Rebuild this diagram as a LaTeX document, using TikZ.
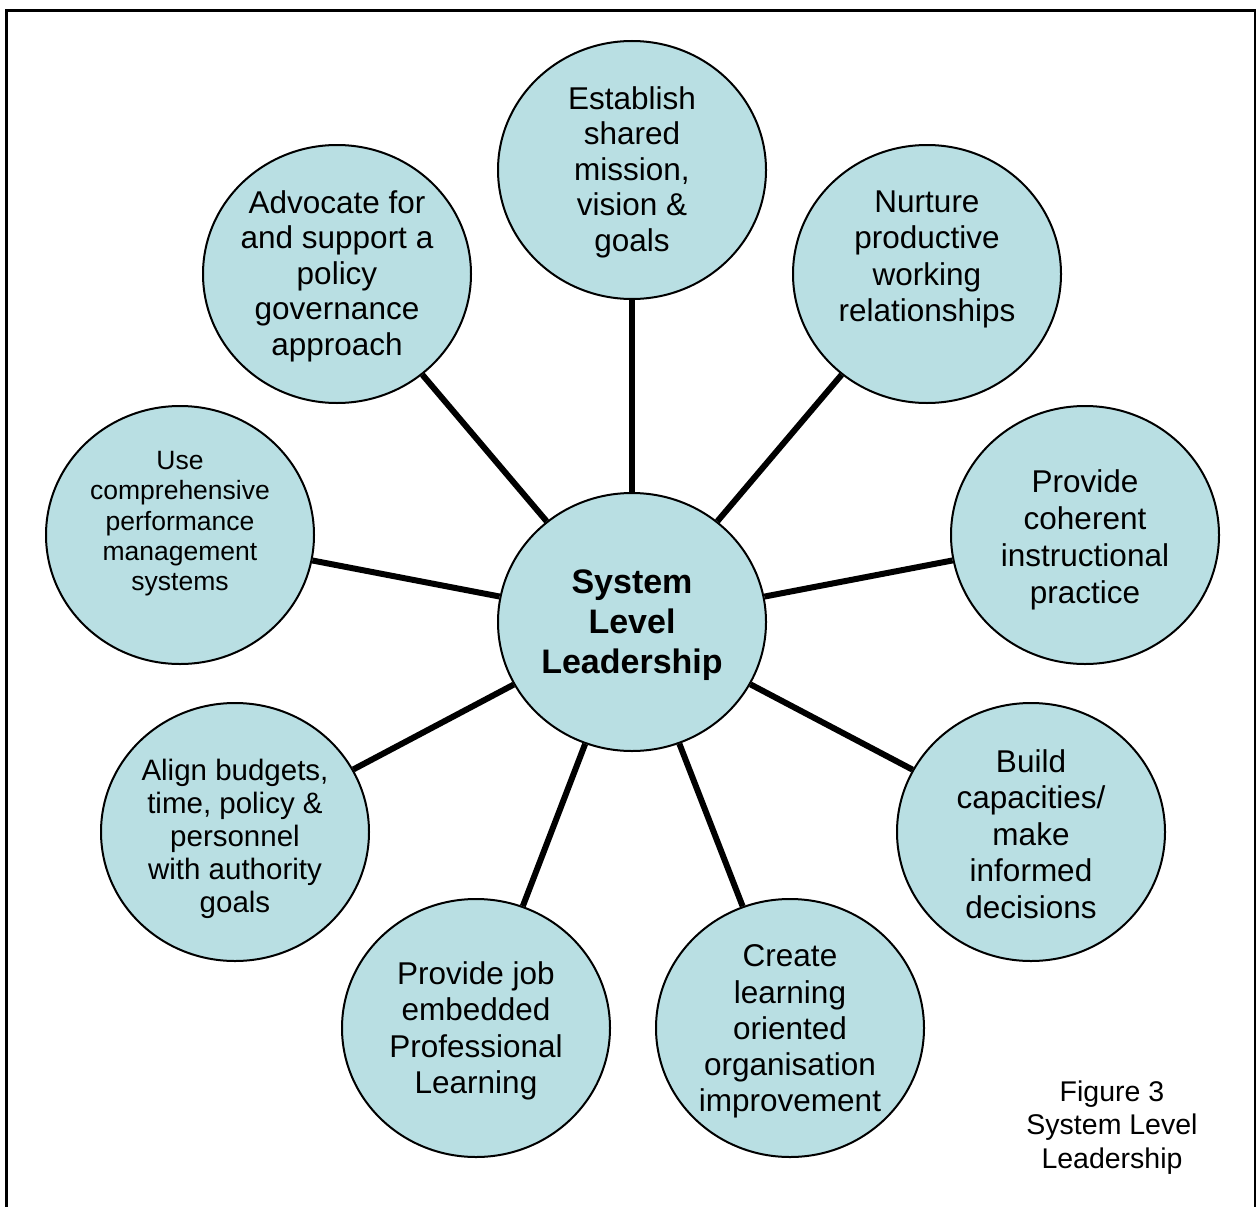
\documentclass[tikz,border=0pt]{standalone}
\usepackage{fontspec}
\setmainfont{Liberation Sans}
\usetikzlibrary{shapes.geometric}
\definecolor{bubblefill}{RGB}{185,223,227}
\tikzset{
  bubble/.style={ellipse, draw=black, line width=2pt, fill=bubblefill,
    minimum width=268pt, minimum height=258pt, inner sep=0pt},
  conn/.style={line width=6pt, black},
  txt/.style={align=center, inner sep=0pt, anchor=north},
  fa/.style={font=\fontsize{31.5}{35.5}\selectfont},
  fb/.style={font=\fontsize{31.5}{36.5}\selectfont},
}
\begin{document}
\begin{tikzpicture}[x=1pt,y=-1pt]
\useasboundingbox (0,0) rectangle (1258,1207);
\draw[line width=2.5pt] (6.5,1207) -- (6.5,10.5) -- (1255,10.5) -- (1255,1207);

\node[bubble] (c)  at (632,622) {};
\node[bubble] (n1) at (632,170) {};
\node[bubble] (n2) at (927,274) {};
\node[bubble] (n3) at (1085,535) {};
\node[bubble] (n4) at (1031,832) {};
\node[bubble] (n5) at (790,1028) {};
\node[bubble] (n6) at (476,1028) {};
\node[bubble] (n7) at (235,832) {};
\node[bubble] (n8) at (180,535) {};
\node[bubble] (n9) at (337,274) {};

\foreach \n in {n1,n2,n3,n4,n5,n6,n7,n8,n9}
  \draw[conn] (c) -- (\n);

\node[txt, font=\bfseries\fontsize{34}{40}\selectfont] (tc) at (632,569.5) {System\\Level\\Leadership};
\node[txt, fa] (t1) at (632,86) {Establish\\shared\\mission,\\vision \&\\goals};
\node[txt, fb] (t2) at (927,190.5) {Nurture\\productive\\working\\relationships};
\node[txt, font=\fontsize{31.5}{37}\selectfont] (t3) at (1085,469) {Provide\\coherent\\instructional\\practice};
\node[txt, fb] (t4) at (1031,749) {Build\\capacities/\\make\\informed\\decisions};
\node[txt, font=\fontsize{31.5}{36.3}\selectfont] (t5) at (790,944.5) {Create\\learning\\oriented\\organisation\\improvement};
\node[txt, fb] (t6) at (476,961) {Provide job\\embedded\\Professional\\Learning};
\node[txt, font=\fontsize{29.5}{33.2}\selectfont] (t7) at (235,758.5) {Align budgets,\\time, policy \&\\personnel\\with authority\\goals};
\node[txt, font=\fontsize{26.5}{30.3}\selectfont] (t8) at (180,451) {Use\\comprehensive\\performance\\management\\systems};
\node[txt, fa] (t9) at (337,190) {Advocate for\\and support a\\policy\\governance\\approach};

\node[txt, font=\fontsize{28.5}{33.5}\selectfont] (fig) at (1112,1080.5) {Figure 3\\System Level\\Leadership};
\end{tikzpicture}
\end{document}
